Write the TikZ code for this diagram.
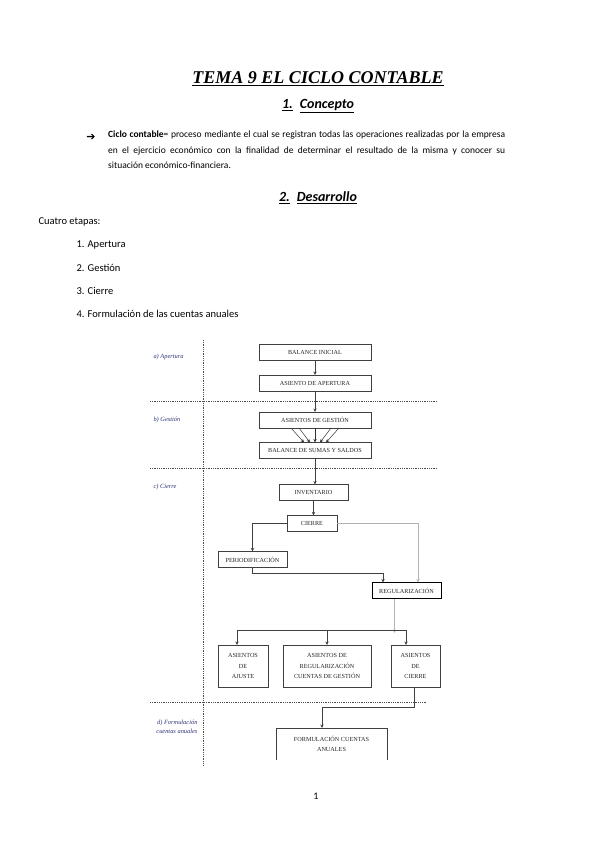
\documentclass[tikz,border=0pt]{standalone}
\usepackage{fontspec}
\setmainfont{Carlito}
\newfontfamily\timesfont{Liberation Serif}
\newfontfamily\symfont{DejaVu Sans}
\usetikzlibrary{arrows.meta,positioning,calc}
\definecolor{etiq}{RGB}{45,55,120}

\begin{document}
\begin{tikzpicture}[x=1pt, y=-1pt, >={Stealth[length=3.5pt,width=3.2pt]},
  caja/.style={draw=black!75, line width=0.8pt, inner sep=0pt, outer sep=0pt,
    minimum width=112pt, minimum height=16pt, align=center, text=black!85,
    font=\timesfont\fontsize{6.2}{10.5}\selectfont},
  etapa/.style={font=\timesfont\itshape\fontsize{6.4}{9}\selectfont, text=etiq},
  flecha/.style={->, line width=0.9pt, black!75},
  gris/.style={line width=0.6pt, black!30},
  puntos/.style={line width=0.7pt, black!70, dash pattern=on 0.7pt off 1.1pt}]
\useasboundingbox (0,0) rectangle (599,848);
\fill[white] (0,0) rectangle (599,848);

% encabezado y texto
\node[font=\timesfont\bfseries\itshape\fontsize{18}{22}\selectfont] (titulo) at (318,79)
  {\underline{TEMA 9 EL CICLO CONTABLE}};
\node[font=\bfseries\itshape\fontsize{14}{16}\selectfont] (concepto) at (318,106)
  {\underline{1.}\hspace{7pt}\underline{Concepto}};
\node[font=\symfont\bfseries\fontsize{11}{11}\selectfont] (bala) at (91,137) {➔};
\node[anchor=north west, text width=397pt, align=justify, inner sep=0pt,
  font=\fontsize{9.5}{15.5}\selectfont] (defin) at (108,131)
  {\textbf{Ciclo contable}= proceso mediante el cual se registran todas las operaciones realizadas por la empresa\linebreak
   en el ejercicio económico con la finalidad de determinar el resultado de la misma y conocer su\linebreak
   situación económico-financiera.};
\node[font=\bfseries\itshape\fontsize{14}{16}\selectfont] (desarrollo) at (318,198)
  {\underline{2.}\hspace{7pt}\underline{Desarrollo}};
\node[anchor=west, font=\fontsize{10.5}{12}\selectfont] (cuatro) at (35,222) {Cuatro etapas:};
\foreach \y/\t in {245/1. Apertura, 268/2. Gestión, 291/3. Cierre, 314/4. Formulación de las cuentas anuales}
  \node[anchor=west, font=\fontsize{10.5}{12}\selectfont] (lista\y) at (73,\y) {\t};

% separadores punteados
\draw[puntos] (203,340) -- (203,765);
\draw[puntos] (150,401) -- (437,401);
\draw[puntos] (150,468) -- (437,468);
\draw[puntos] (150,702) -- (427,702);

% etiquetas de las etapas
\node[etapa, anchor=west] (ea) at (150,357) {a) Apertura};
\node[etapa, anchor=west] (eb) at (150,420) {b) Gestión};
\node[etapa, anchor=west] (ec) at (150,487) {c) Cierre};
\node[etapa, anchor=east, align=right] (ed) at (201,727) {d) Formulación\\cuentas anuales};

% cajas
\node[caja] (bini) at (315,352) {BALANCE INICIAL};
\node[caja] (bape) at (315,383) {ASIENTO DE APERTURA};
\node[caja] (bges) at (315,420) {ASIENTOS DE GESTIÓN};
\node[caja] (bbal) at (315,450.5) {BALANCE DE SUMAS Y SALDOS};
\node[caja, minimum width=69pt] (binv) at (313.5,492.5) {INVENTARIO};
\node[caja, minimum width=50pt] (bcie) at (312,523.5) {CIERRE};
\node[caja, minimum width=69pt] (bper) at (252.5,559.5) {PERIODIFICACIÓN};
\node[caja, minimum width=69pt, draw=black, line width=1pt] (breg) at (406.5,590.5) {REGULARIZACIÓN};
\node[caja, minimum width=50pt, minimum height=42pt] (baju) at (243,666) {ASIENTOS\\DE\\AJUSTE};
\node[caja, minimum width=88pt, minimum height=42pt] (brcg) at (327,666) {ASIENTOS DE\\REGULARIZACIÓN\\CUENTAS DE GESTIÓN};
\node[caja, minimum width=49pt, minimum height=42pt] (bcer) at (415.5,666) {ASIENTOS\\DE\\CIERRE};
\node[caja, draw=none, minimum width=111pt, minimum height=32pt] (bfor) at (331.5,744) {FORMULACIÓN CUENTAS\\ANUALES};
\draw[black!75, line width=0.8pt] (bfor.south west) |- (bfor.north east) -- (bfor.south east);

% conexiones
\draw[flecha] (bini) -- (bape);
\draw[flecha] (bape) -- (bges);
\foreach \a/\b in {-24/-11,-16/-5,0/0,16/5,24/11}
  \draw[->, line width=0.5pt, black!80] ([xshift=\a pt]bges.south) -- ([xshift=\b pt]bbal.north);
\draw[flecha] (bbal.south) -- (bbal.south |- binv.north);
\draw[flecha] (binv.south) -- (binv.south |- bcie.north);
\draw[flecha] (bcie.west) -| (bper.north);
\draw[gris, ->] (bcie.east) -| ([xshift=11.5pt]breg.north);
\draw[flecha] (bper.south) -- ++(0,6) -| ([xshift=-23.5pt]breg.north);
\coordinate (split) at (394.5,630);
\coordinate (splitL) at (237,630);
\coordinate (splitR) at (406,630);
\draw[gris, ->] ([xshift=-12pt]breg.south) -- ([yshift=-3pt]split);
\draw[line width=0.9pt, black!75] (splitL) -- (splitR);
\draw[flecha] (splitL) -- (splitL |- baju.north);
\draw[flecha] (brcg.north |- split) -- (brcg.north);
\draw[flecha] (splitR) -- (splitR |- bcer.north);
\draw[flecha] ([xshift=-1.5pt]bcer.south) -- ++(0,20) -| ([xshift=-9.5pt]bfor.north);

% pie
\node[font=\fontsize{10}{12}\selectfont] (pagina) at (316,796) {1};
\end{tikzpicture}
\end{document}
